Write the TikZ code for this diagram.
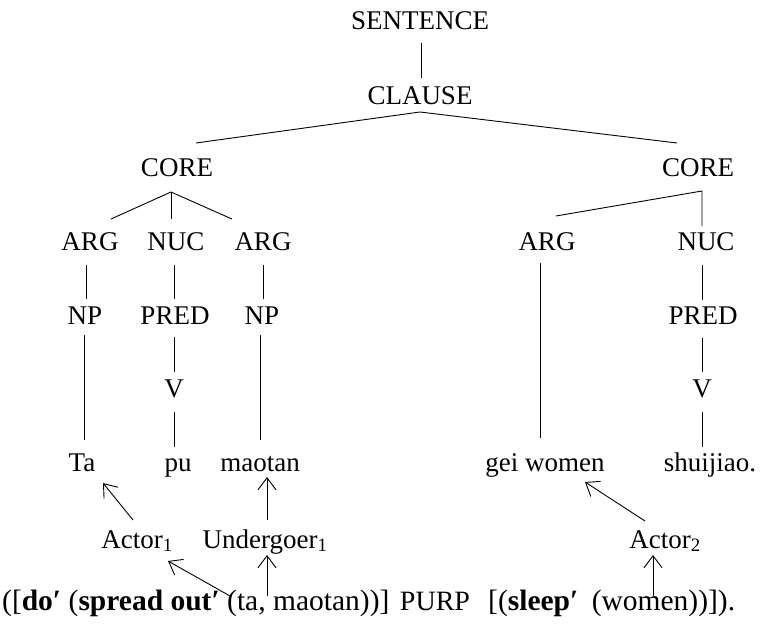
\documentclass[tikz,border=0pt]{standalone}
\usepackage{fontspec}
\setmainfont{Liberation Serif}
\usetikzlibrary{arrows.meta}
\begin{document}
\begin{tikzpicture}[x=1pt,y=-1pt,
  font=\fontsize{27}{32}\selectfont,
  lbl/.style={anchor=base,inner sep=0pt},
  big/.style={lbl,font=\fontsize{29.5}{34}\selectfont},
  tree/.style={line width=0.9pt},
  arr/.style={line width=0.9pt,-{Straight Barb[length=12pt,width=18pt]}}]
\useasboundingbox (0,0) rectangle (765,626);
% nodes
\node[lbl] (sent) at (420,30) {SENTENCE};
\node[lbl] (clause) at (420,104) {CLAUSE};
\node[lbl] (coreL) at (177,176) {CORE};
\node[lbl] (coreR) at (698,176) {CORE};
\node[lbl] (arg1) at (90,250) {ARG};
\node[lbl] (nuc1) at (176,250) {NUC};
\node[lbl] (arg2) at (263,250) {ARG};
\node[lbl] (argR) at (547,250) {ARG};
\node[lbl] (nucR) at (706,250) {NUC};
\node[lbl] (np1) at (85,324) {NP};
\node[lbl] (pred1) at (175,324) {PRED};
\node[lbl] (np2) at (262,324) {NP};
\node[lbl] (predR) at (703,324) {PRED};
\node[lbl] (v1) at (174,397) {V};
\node[lbl] (vR) at (702,397) {V};
\node[lbl] (ta) at (82,471) {Ta};
\node[lbl] (pu) at (178,471) {pu};
\node[lbl] (maotan) at (260,471) {maotan};
\node[lbl] (gei) at (545,471) {gei women};
\node[lbl] (shui) at (710,471) {shuijiao.};
\node[lbl] (actor1) at (137,548) {Actor\textsubscript{1}};
\node[lbl] (und1) at (265,548) {Undergoer\textsubscript{1}};
\node[lbl] (actor2) at (665,548) {Actor\textsubscript{2}};
\node[big,anchor=base west] (lf) at (2,610) {([\textbf{do′} (\textbf{spread out′} (ta, maotan))]};
\node[lbl,font=\fontsize{28}{32}\selectfont] (purp) at (435,610) {PURP};
\node[big,anchor=base west] (rt) at (488,610) {[(\textbf{sleep′}\hspace{6pt} (women))]).};
% tree lines
\draw[tree] ([xshift=1pt,yshift=-13pt]sent.base) -- ([xshift=1pt,yshift=26pt]clause.base);
\draw[tree] ([xshift=19pt,yshift=33pt]coreL.base) -- ([yshift=-8pt]clause.base) -- ([xshift=-21pt,yshift=33pt]coreR.base);
\draw[tree] ([xshift=21pt,yshift=31pt]arg1.base) -- ([xshift=-6pt,yshift=-16pt]coreL.base) -- ([xshift=-31pt,yshift=31pt]arg2.base);
\draw[tree] ([xshift=-6pt,yshift=-16pt]coreL.base) -- ([xshift=-5pt,yshift=31pt]nuc1.base);
\draw[tree] ([xshift=9pt,yshift=34pt]argR.base) -- ([xshift=4pt,yshift=-15pt]coreR.base) -- ([xshift=-4pt,yshift=24pt]nucR.base);
\draw[tree] ([xshift=-4pt,yshift=-15pt]arg1.base) -- ([xshift=1pt,yshift=25pt]np1.base);
\draw[tree] ([xshift=-2pt,yshift=-15pt]nuc1.base) -- ([xshift=-1pt,yshift=25pt]pred1.base);
\draw[tree] ([yshift=-15pt]arg2.base) -- ([xshift=1pt,yshift=25pt]np2.base);
\draw[tree] ([xshift=-7pt,yshift=-13pt]argR.base) -- ([xshift=-5pt,yshift=33pt]gei.base);
\draw[tree] ([xshift=-4pt,yshift=-15pt]nucR.base) -- ([xshift=-1pt,yshift=24pt]predR.base);
\draw[tree] ([xshift=-1pt,yshift=-11pt]np1.base) -- ([xshift=2pt,yshift=31pt]ta.base);
\draw[tree] ([xshift=-1pt,yshift=-13pt]pred1.base) -- ([yshift=25pt]v1.base);
\draw[tree] ([xshift=-2pt,yshift=-11pt]np2.base) -- ([yshift=31pt]maotan.base);
\draw[tree] ([yshift=-15pt]v1.base) -- ([xshift=-4pt,yshift=24pt]pu.base);
\draw[tree] ([xshift=-1pt,yshift=-14pt]predR.base) -- ([yshift=25pt]vR.base);
\draw[tree] ([yshift=-15pt]vR.base) -- ([xshift=-8pt,yshift=24pt]shui.base);
% arrows
\draw[arr] ([xshift=-4pt,yshift=28pt]actor1.base) -- ([xshift=21pt,yshift=-12pt]ta.base);
\draw[arr] ([xshift=2pt,yshift=28pt]und1.base) -- ([xshift=7pt,yshift=-6pt]maotan.base);
\draw[arr] ([xshift=228pt,yshift=14pt]lf.base west) -- ([xshift=31pt,yshift=-13pt]actor1.base);
\draw[arr] ([xshift=265pt,yshift=14pt]lf.base west) -- ([xshift=2pt,yshift=-7pt]und1.base);
\draw[arr] ([xshift=-20pt,yshift=27pt]actor2.base) -- ([xshift=40pt,yshift=-11pt]gei.base);
\draw[arr] ([xshift=165pt,yshift=14pt]rt.base west) -- ([xshift=-12pt,yshift=-7pt]actor2.base);
\end{tikzpicture}
\end{document}
